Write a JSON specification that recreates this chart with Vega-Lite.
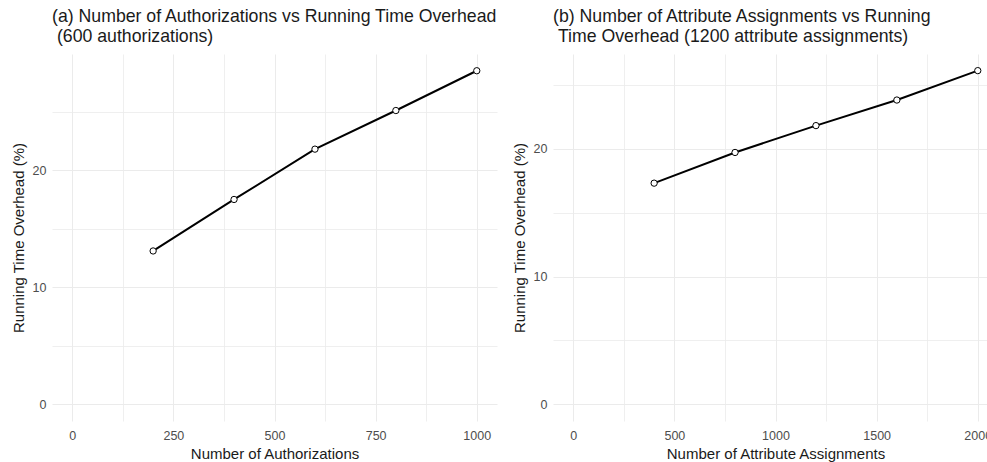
{
  "$schema": "https://vega.github.io/schema/vega-lite/v6.json",
  "background": "white",
  "padding": {"left": 11, "top": 8, "right": 0, "bottom": 0},
  "config": {
    "view": {"stroke": null},
    "font": "Liberation Sans",
    "axis": {
      "domain": false,
      "ticks": false,
      "gridColor": "#ebebeb",
      "labelColor": "#4d4d4d",
      "labelFont": "Liberation Sans",
      "labelFontSize": 12.5,
      "titleFont": "Liberation Sans",
      "titleFontSize": 15,
      "titleFontWeight": "normal",
      "titleColor": "#1a1a1a",
      "labelPadding": 6,
      "format": "d"
    },
    "title": {"anchor": "start", "frame": "group", "fontSize": 17.7, "fontWeight": "normal", "font": "Liberation Sans", "color": "#1a1a1a", "offset": 8, "lineHeight": 20},
    "concat": {"spacing": 14}
  },
  "datasets": {
    "auth": [
      {"authorizations": 200, "overhead": 13.1},
      {"authorizations": 400, "overhead": 17.5},
      {"authorizations": 600, "overhead": 21.8},
      {"authorizations": 800, "overhead": 25.1},
      {"authorizations": 1000, "overhead": 28.5}
    ],
    "attr": [
      {"assignments": 400, "overhead": 17.3},
      {"assignments": 800, "overhead": 19.7},
      {"assignments": 1200, "overhead": 21.8},
      {"assignments": 1600, "overhead": 23.8},
      {"assignments": 2000, "overhead": 26.1}
    ]
  },
  "hconcat": [
    {
      "title": {"text": ["(a) Number of Authorizations vs Running Time Overhead", "\u200b\u00a0(600 authorizations)"]},
      "width": 445,
      "height": 367,
      "data": {"name": "auth"},
      "encoding": {
        "x": {"field": "authorizations", "type": "quantitative", "title": "Number of Authorizations",
          "scale": {"domain": [-50, 1050], "nice": false, "zero": false},
          "axis": {"values": [0, 125, 250, 375, 500, 625, 750, 875, 1000],
            "labelExpr": "datum.value % 250 === 0 ? datum.label : ''",
            "gridWidth": {"condition": {"test": "datum.value % 250 === 0", "value": 1}, "value": 0.8},
            "labelPadding": 8, "titlePadding": 5}},
        "y": {"field": "overhead", "type": "quantitative", "title": "Running Time Overhead (%)",
          "scale": {"domain": [-1.43, 29.93], "nice": false, "zero": false},
          "axis": {"values": [0, 5, 10, 15, 20, 25],
            "labelExpr": "datum.value % 10 === 0 ? datum.label : ''",
            "gridWidth": {"condition": {"test": "datum.value % 10 === 0", "value": 1}, "value": 0.8},
            "titlePadding": 6}}
      },
      "layer": [
        {"mark": {"type": "line", "color": "black", "strokeWidth": 2}},
        {"mark": {"type": "point", "filled": true, "fill": "white", "stroke": "black", "strokeWidth": 1, "size": 40, "opacity": 1}}
      ]
    },
    {
      "title": {"text": ["(b) Number of Attribute Assignments vs Running", "\u200b\u00a0Time Overhead (1200 attribute assignments)"]},
      "width": 445,
      "height": 367,
      "data": {"name": "attr"},
      "encoding": {
        "x": {"field": "assignments", "type": "quantitative", "title": "Number of Attribute Assignments",
          "scale": {"domain": [-100, 2100], "nice": false, "zero": false},
          "axis": {"values": [0, 250, 500, 750, 1000, 1250, 1500, 1750, 2000],
            "labelExpr": "datum.value % 500 === 0 ? datum.label : ''",
            "gridWidth": {"condition": {"test": "datum.value % 500 === 0", "value": 1}, "value": 0.8},
            "labelPadding": 8, "titlePadding": 5}},
        "y": {"field": "overhead", "type": "quantitative", "title": "Running Time Overhead (%)",
          "scale": {"domain": [-1.3, 27.4], "nice": false, "zero": false},
          "axis": {"values": [0, 5, 10, 15, 20, 25],
            "labelExpr": "datum.value % 10 === 0 ? datum.label : ''",
            "gridWidth": {"condition": {"test": "datum.value % 10 === 0", "value": 1}, "value": 0.8},
            "titlePadding": 6}}
      },
      "layer": [
        {"mark": {"type": "line", "color": "black", "strokeWidth": 2}},
        {"mark": {"type": "point", "filled": true, "fill": "white", "stroke": "black", "strokeWidth": 1, "size": 40, "opacity": 1}}
      ]
    }
  ]
}
